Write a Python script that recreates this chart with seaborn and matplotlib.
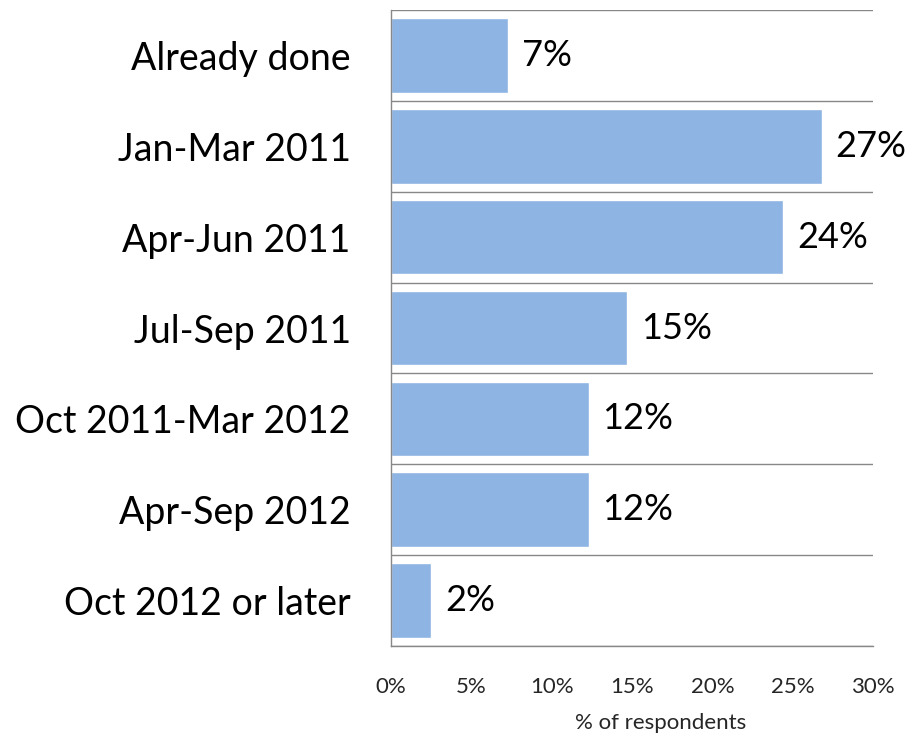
import matplotlib
matplotlib.use("Agg")
import matplotlib.pyplot as plt
import seaborn as sns
import pandas as pd

categories = ['Already done', 'Jan-Mar 2011', 'Apr-Jun 2011', 'Jul-Sep 2011',
              'Oct 2011-Mar 2012', 'Apr-Sep 2012', 'Oct 2012 or later']
values = [7.3, 26.8, 24.4, 14.7, 12.3, 12.3, 2.5]
value_labels = ['7%', '27%', '24%', '15%', '12%', '12%', '2%']
x_ticks = [0, 5, 10, 15, 20, 25, 30]

df = pd.DataFrame({'period': categories, 'pct': values})

sns.set_style('white')
plt.rcParams['font.family'] = ['Lato', 'DejaVu Sans']

fig = plt.figure(figsize=(9.2, 7.38), dpi=100)
ax = fig.add_axes([0.425, 0.1247, 0.524, 0.8617])

sns.barplot(data=df, x='pct', y='period', orient='h', color='#8EB4E3',
            saturation=1, width=0.82, ax=ax)

# value labels to the right of each bar
ax.bar_label(ax.containers[0], labels=value_labels, padding=10,
             fontsize=26, color='black')

grid_col = '#888888'
ax.set_xlim(0, 30)
ax.set_ylim(len(categories) - 0.5, -0.5)
ax.set_xticks(x_ticks)
ax.set_xticklabels([f'{t}%' for t in x_ticks], fontsize=16, color='#262626')
ax.set_yticks(range(len(categories)))
ax.set_yticklabels(categories, fontsize=27, color='black')
ax.set_yticks([i - 0.5 for i in range(len(categories) + 1)], minor=True)
ax.tick_params(axis='y', which='major', length=0, pad=29)
ax.tick_params(axis='y', which='minor', length=9, color=grid_col, width=1)
ax.tick_params(axis='x', length=7, color=grid_col, width=1, pad=15)
ax.grid(axis='y', which='minor', color=grid_col, linewidth=1)
ax.set_axisbelow(True)

for side in ['top', 'right']:
    ax.spines[side].set_visible(False)
for side in ['left', 'bottom']:
    ax.spines[side].set_color(grid_col)
    ax.spines[side].set_linewidth(1)

ax.set_xlabel('% of respondents', fontsize=16, color='#262626', labelpad=10)
ax.xaxis.set_label_coords(0.56, -0.105)
ax.set_ylabel('')

fig.savefig('out.png', dpi=100)
